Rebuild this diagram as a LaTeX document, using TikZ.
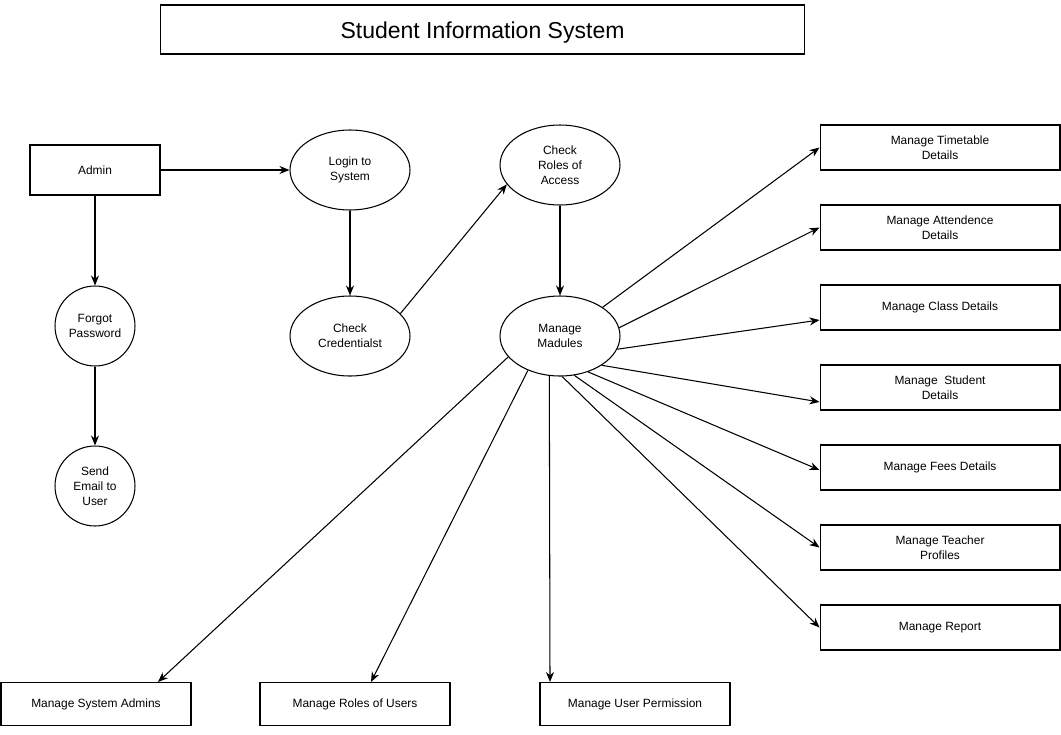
\documentclass[tikz,border=0pt]{standalone}
\usepackage{fontspec}
\setmainfont{Liberation Sans}
\usetikzlibrary{positioning, calc, arrows.meta, shapes.geometric}

\begin{document}
\begin{tikzpicture}[x=0.02cm, y=-0.02cm,
    box/.style={draw, line width=0.6pt, inner sep=0pt, align=center,
      font=\fontsize{6.8}{8.5}\selectfont},
    proc/.style={box, ellipse, minimum width=2.4cm, minimum height=1.6cm},
    circ/.style={box, circle, minimum size=1.6cm},
    mod/.style={box, minimum width=4.8cm, minimum height=0.9cm},
    low/.style={box, minimum width=3.8cm, minimum height=0.86cm},
    arr/.style={line width=0.6pt, -{Stealth[length=2mm, width=1.6mm]}}]
  \useasboundingbox (0,0) rectangle (1061,734);

  \node[box, minimum width=12.9cm, minimum height=0.98cm,
    font=\fontsize{13.1}{15}\selectfont] (title) at (482.5,29.5)
    {\raisebox{-2pt}[\height][\depth]{Student Information System}};

  \node[box, minimum width=2.6cm, minimum height=1cm] (admin) at (95,170) {Admin};
  \node[proc] (login) at (350,170) {Login to\\System};
  \node[proc] (cred) at (350,336) {Check\\Credentialst};
  \node[proc] (roles) at (560,165) {Check\\Roles of\\Access};
  \node[proc] (mm) at (560,336) {Manage\\Madules};
  \node[circ] (forgot) at (95,326) {Forgot\\Password};
  \node[circ] (email) at (95,486) {Send\\Email to\\User};

  % modules on the right
  \foreach \nm/\yy/\txt in {tt/147.5/{Manage Timetable\\Details},
      ad/227.5/{Manage Attendence\\Details},
      cl/307.5/{Manage Class Details},
      sd/387.5/{Manage\ \ Student\\Details},
      fe/467.5/{Manage Fees Details},
      tp/547.5/{Manage Teacher\\Profiles},
      rp/627.5/{Manage Report}} {
    \node[mod] (\nm) at (940,\yy) {\txt};
  }

  % modules at the bottom
  \node[low] (sa) at (96,704) {Manage System Admins};
  \node[low] (ru) at (355,704) {Manage Roles of Users};
  \node[low] (up) at (635,704) {Manage User Permission};

  \draw[arr] (admin.east) -- (login.west);
  \draw[arr] (admin.south) -- (forgot.north);
  \draw[arr] (forgot.south) -- (email.north);
  \draw[arr] (login.south) -- (cred.north);
  \draw[arr] (cred.24) -- (roles.200);
  \draw[arr] (roles.south) -- (mm.north);

  \foreach \nm/\a/\d in {tt/34/0, ad/8/0, cl/-13/12.5, sd/-35/14.5,
      fe/-52/2.5, tp/-70/0, rp/-87/0} {
    \draw[arr] (mm.\a) -- ($(\nm.west)+(0,\d)$);
  }
  \foreach \nm/\a/\d in {sa/202/62, ru/227/16, up/255/-85} {
    \draw[arr] (mm.\a) -- ($(\nm.north)+(\d,0)$);
  }
\end{tikzpicture}
\end{document}
